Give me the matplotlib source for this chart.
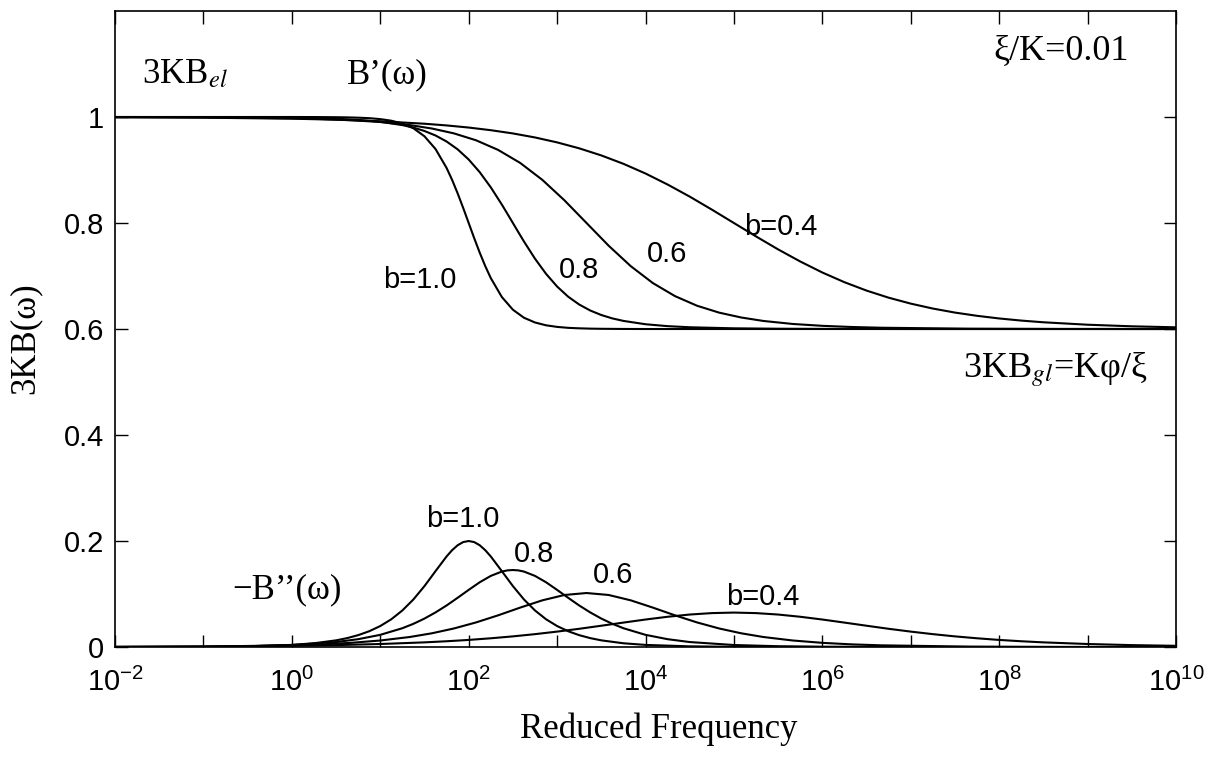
import numpy as np
import matplotlib.pyplot as plt

# log10 of reduced frequency, storage part B' and loss part -B'' for each b
logw_b10 = [-2, -1, -0.5, 0, 0.25, 0.5, 0.625, 0.75, 0.875, 1, 1.125, 1.25,
            1.375, 1.5, 1.625, 1.75, 1.8125, 1.875, 1.9375, 2, 2.0625, 2.125,
            2.1875, 2.25, 2.375, 2.5, 2.625, 2.75, 2.875, 3, 3.125, 3.25,
            3.375, 3.5, 3.75, 4, 4.5, 5, 6, 8, 10]
real_b10 = [1.0000, 1.0000, 1.0000, 1.0000, 0.9999, 0.9996, 0.9993, 0.9987,
            0.9978, 0.9960, 0.9930, 0.9877, 0.9787, 0.9636, 0.9396, 0.9039,
            0.8814, 0.8560, 0.8286, 0.8000, 0.7714, 0.7440, 0.7187, 0.6961,
            0.6604, 0.6364, 0.6213, 0.6123, 0.6070, 0.6040, 0.6022, 0.6013,
            0.6007, 0.6004, 0.6001, 0.6000, 0.6000, 0.6000, 0.6000, 0.6000,
            0.6000]
loss_b10 = [0.0000, 0.0004, 0.0013, 0.0040, 0.0071, 0.0126, 0.0168, 0.0224,
            0.0298, 0.0396, 0.0524, 0.0690, 0.0898, 0.1150, 0.1432, 0.1709,
            0.1827, 0.1920, 0.1980, 0.2000, 0.1980, 0.1920, 0.1827, 0.1709,
            0.1432, 0.1150, 0.0898, 0.0690, 0.0524, 0.0396, 0.0298, 0.0224,
            0.0168, 0.0126, 0.0071, 0.0040, 0.0013, 0.0004, 0.0000, 0.0000,
            0.0000]

logw_b08 = [-2, -1, -0.5, 0, 0.5, 0.75, 1, 1.25, 1.375, 1.5, 1.625, 1.75,
            1.875, 2, 2.125, 2.25, 2.375, 2.4375, 2.5, 2.5625, 2.625, 2.75,
            2.875, 3, 3.125, 3.25, 3.375, 3.5, 3.625, 3.75, 4, 4.25, 4.5, 5,
            5.5, 6, 7, 8, 10]
real_b08 = [1.0000, 0.9998, 0.9995, 0.9987, 0.9967, 0.9946, 0.9910, 0.9847,
            0.9800, 0.9736, 0.9651, 0.9538, 0.9390, 0.9198, 0.8959, 0.8673,
            0.8348, 0.8175, 0.8000, 0.7825, 0.7652, 0.7327, 0.7041, 0.6802,
            0.6610, 0.6462, 0.6349, 0.6264, 0.6200, 0.6153, 0.6090, 0.6054,
            0.6033, 0.6013, 0.6005, 0.6002, 0.6000, 0.6000, 0.6000]
loss_b08 = [0.0001, 0.0006, 0.0015, 0.0038, 0.0094, 0.0148, 0.0230, 0.0355,
            0.0438, 0.0537, 0.0653, 0.0784, 0.0929, 0.1078, 0.1222, 0.1342,
            0.1424, 0.1446, 0.1453, 0.1446, 0.1424, 0.1342, 0.1222, 0.1078,
            0.0929, 0.0784, 0.0653, 0.0537, 0.0438, 0.0355, 0.0230, 0.0148,
            0.0094, 0.0038, 0.0015, 0.0006, 0.0001, 0.0000, 0.0000]

logw_b06 = [-2, -1, 0, 0.333, 0.667, 1.0, 1.333, 1.583, 1.833, 2.083, 2.333,
            2.583, 2.833, 3.083, 3.333, 3.583, 3.833, 4.083, 4.333, 4.583,
            4.833, 5.083, 5.333, 5.667, 6.0, 6.333, 6.667, 7.667, 8.667, 10]
real_b06 = [0.9999, 0.9994, 0.9976, 0.9962, 0.9940, 0.9905, 0.9848, 0.9783,
            0.9691, 0.9561, 0.9379, 0.9133, 0.8814, 0.8428, 0.8000, 0.7572,
            0.7186, 0.6867, 0.6621, 0.6439, 0.6309, 0.6217, 0.6152, 0.6095,
            0.6060, 0.6038, 0.6024, 0.6006, 0.6001, 0.6000]
loss_b06 = [0.0002, 0.0008, 0.0032, 0.0050, 0.0079, 0.0123, 0.0189, 0.0259,
            0.0350, 0.0464, 0.0598, 0.0744, 0.0881, 0.0982, 0.1019, 0.0982,
            0.0881, 0.0744, 0.0598, 0.0464, 0.0350, 0.0259, 0.0189, 0.0123,
            0.0079, 0.0050, 0.0032, 0.0008, 0.0002, 0.0000]

logw_b04 = [-2, -1, 0, 0.5, 1, 1.5, 1.75, 2, 2.25, 2.5, 2.75, 3, 3.25, 3.5,
            3.75, 4, 4.25, 4.5, 4.75, 5, 5.25, 5.5, 5.75, 6, 6.25, 6.5, 6.75,
            7, 7.25, 7.5, 7.75, 8, 8.25, 8.5, 9, 9.5, 10]
real_b04 = [0.9995, 0.9987, 0.9968, 0.9949, 0.9920, 0.9873, 0.9841, 0.9801,
            0.9751, 0.9690, 0.9614, 0.9521, 0.9409, 0.9275, 0.9117, 0.8934,
            0.8726, 0.8498, 0.8253, 0.8000, 0.7747, 0.7502, 0.7274, 0.7066,
            0.6883, 0.6725, 0.6591, 0.6479, 0.6386, 0.6310, 0.6249, 0.6199,
            0.6159, 0.6127, 0.6081, 0.6051, 0.6032]
loss_b04 = [0.0004, 0.0009, 0.0023, 0.0036, 0.0057, 0.0088, 0.0109, 0.0134,
            0.0165, 0.0201, 0.0243, 0.0291, 0.0344, 0.0402, 0.0461, 0.0519,
            0.0571, 0.0613, 0.0640, 0.0650, 0.0640, 0.0613, 0.0571, 0.0519,
            0.0461, 0.0402, 0.0344, 0.0291, 0.0243, 0.0201, 0.0165, 0.0134,
            0.0109, 0.0088, 0.0057, 0.0036, 0.0023]

decades = list(range(-2, 11))
yticks = [0, 0.2, 0.4, 0.6, 0.8, 1]
ytick_labels = ['0', '0.2', '0.4', '0.6', '0.8', '1']

plt.rcParams['font.family'] = ['Liberation Sans', 'DejaVu Sans']
serif = ['Liberation Serif', 'DejaVu Serif']

fig = plt.figure(figsize=(12.07, 7.58), dpi=100)
ax = fig.add_axes([0.0953, 0.1464, 0.879, 0.8391])

curves = [(logw_b10, real_b10, loss_b10), (logw_b08, real_b08, loss_b08),
          (logw_b06, real_b06, loss_b06), (logw_b04, real_b04, loss_b04)]
for logw, re, im in curves:
    w = 10.0 ** np.array(logw)
    ax.plot(w, re, color='black', lw=1.5)
    ax.plot(w, im, color='black', lw=1.5)

ax.set_xscale('log')
ax.set_xlim(1e-2, 1e10)
ax.set_ylim(0, 1.2)
ax.set_xticks([10.0 ** k for k in decades])
ax.set_xticklabels([r'$\mathdefault{10^{%d}}$' % k if k % 2 == 0 else '' for k in decades])
ax.xaxis.set_minor_locator(plt.NullLocator())
ax.set_yticks(yticks)
ax.set_yticklabels(ytick_labels)
ax.tick_params(direction='in', top=True, right=True, length=9, width=1,
               labelsize=21)
ax.tick_params(axis='x', pad=15)
ax.tick_params(axis='y', pad=8)
for sp in ax.spines.values():
    sp.set_linewidth(1.2)

ax.set_xlabel('Reduced Frequency', family=serif, fontsize=25, va='baseline')
ax.xaxis.set_label_coords(0.5127, -0.1431)
ax.set_ylabel('3KB(ω)', family=serif, fontsize=25, va='center')
ax.yaxis.set_label_coords(-0.0848, 0.4858)

# serif annotations
ax.text(0.0254, 0.887, r'3KB$_{el}$', transform=ax.transAxes, family=serif,
        fontsize=25, math_fontfamily='stix', va='baseline')
ax.text(0.2187, 0.887, 'B’(ω)', transform=ax.transAxes, family=serif,
        fontsize=25, va='baseline')
ax.text(0.8275, 0.923, 'ξ/K=0.01', transform=ax.transAxes, family=serif,
        fontsize=26, va='baseline')
ax.text(0.7992, 0.4245, r'3KB$_{gl}$=Kφ/ξ', transform=ax.transAxes,
        family=serif, fontsize=26, math_fontfamily='stix', va='baseline')
ax.text(0.1103, 0.077, '−B’’(ω)', transform=ax.transAxes, family=serif,
        fontsize=25, va='baseline')

# curve labels
labels = [('b=1.0', 0.2875, 0.5645), ('0.8', 0.4373, 0.5802),
          ('0.6', 0.5203, 0.6053), ('b=0.4', 0.6277, 0.6478),
          ('b=1.0', 0.3280, 0.1887), ('0.8', 0.3949, 0.1336),
          ('0.6', 0.4694, 0.1006), ('b=0.4', 0.6107, 0.0660)]
for txt, x, y in labels:
    ax.text(x, y, txt, transform=ax.transAxes, fontsize=21, ha='center',
            va='baseline')

fig.savefig('out.png', dpi=100)
